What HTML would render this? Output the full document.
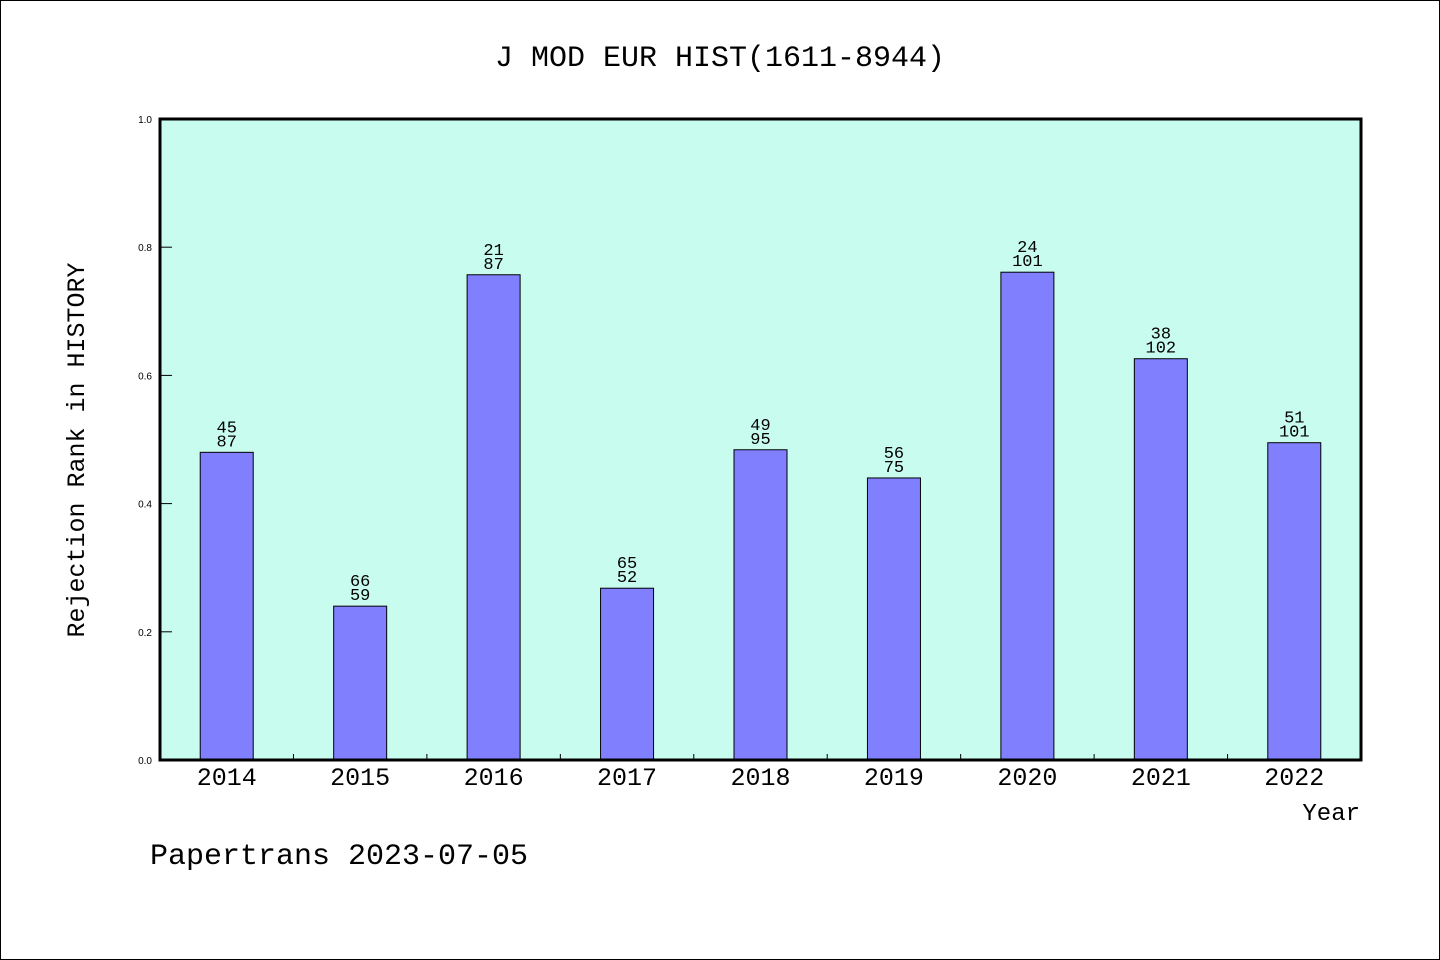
<!DOCTYPE html>
<html><head><meta charset="utf-8"><style>
html,body{margin:0;padding:0;background:#fff;}
svg{display:block;}
text{font-family:"Liberation Mono","WenQuanYi Zen Hei",monospace;fill:#000;}
</style></head><body>
<svg id="chart" width="1440" height="960" xmlns="http://www.w3.org/2000/svg">
<rect x="0.5" y="0.5" width="1439" height="959" fill="#fff" stroke="#000" stroke-width="1"/>
<text x="720" y="66" font-size="30" text-anchor="middle">J MOD EUR HIST(1611-8944)</text>
<rect x="160" y="119" width="1201" height="641" fill="#c8fcee"/>
<g id="bars"></g>
<g id="ticks"></g>
<rect x="160" y="119" width="1201" height="641" fill="none" stroke="#000" stroke-width="3"/>
<text transform="translate(84,450) rotate(-90)" font-size="25" text-anchor="middle">Rejection Rank in HISTORY</text>
<text x="1360" y="820" font-size="24" text-anchor="end">Year</text>
<text x="150" y="864" font-size="30">Papertrans 2023-07-05</text>
</svg>
<script>
const years = ["2014","2015","2016","2017","2018","2019","2020","2021","2022"];
const values = [0.480, 0.240, 0.757, 0.268, 0.484, 0.440, 0.761, 0.626, 0.495];
const topLabels = ["45","66","21","65","49","56","24","38","51"];
const bottomLabels = ["87","59","87","52","95","75","101","102","101"];
const yTicks = [0.0, 0.2, 0.4, 0.6, 0.8, 1.0];

const NS = "http://www.w3.org/2000/svg";
const X0 = 160, X1 = 1361, Y0 = 760, Y1 = 119;
const band = (X1 - X0) / years.length;
const xc = i => X0 + band * (i + 0.5);
const ys = v => Y0 - v * (Y0 - Y1);
function mk(tag, attrs, parent) {
  const e = document.createElementNS(NS, tag);
  for (const k in attrs) e.setAttribute(k, attrs[k]);
  parent.appendChild(e);
  return e;
}
const bars = document.getElementById("bars");
const ticks = document.getElementById("ticks");
years.forEach((y, i) => {
  const top = ys(values[i]);
  const r = mk("rect", {x: xc(i) - 26.5, y: top, width: 53, height: Y0 - top, fill: "#8080ff", stroke: "#000", "stroke-width": 1}, bars);
  
  
  const t1 = mk("text", {x: xc(i), y: top - 20, "font-size": 17, "text-anchor": "middle"}, bars);
  t1.textContent = topLabels[i];
  
  
  const t2 = mk("text", {x: xc(i), y: top - 6, "font-size": 17, "text-anchor": "middle"}, bars);
  t2.textContent = bottomLabels[i];
  
  
  const xl = mk("text", {x: xc(i), y: 785, "font-size": 25, "text-anchor": "middle"}, ticks);
  xl.textContent = y;
  
  
  if (i > 0) {
    const tk = mk("line", {x1: X0 + band * i, x2: X0 + band * i, y1: Y0, y2: Y0 - 6, stroke: "#000", "stroke-width": 1}, ticks);
    
    
  }
});
yTicks.forEach(v => {
  const y = ys(v);
  const tk = mk("line", {x1: X0, x2: X0 + 12, y1: y, y2: y, stroke: "#000", "stroke-width": 1}, ticks);
  
  
  const tl = mk("text", {x: 152, y: y + 4, "font-size": 10, "text-anchor": "end", style: "font-family:'Liberation Sans',sans-serif"}, ticks);
  tl.textContent = v.toFixed(1);
  
  
});
</script>
</body></html>
